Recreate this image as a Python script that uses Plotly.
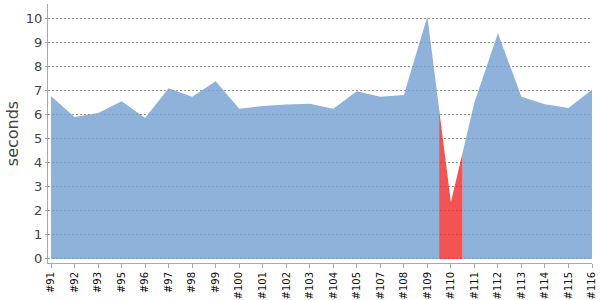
import plotly.graph_objects as go

builds = ["#91", "#92", "#93", "#95", "#96", "#97", "#98", "#99", "#100", "#101",
          "#102", "#103", "#104", "#105", "#107", "#108", "#109", "#110", "#111",
          "#112", "#113", "#114", "#115", "#116"]
durations = [6.76, 5.9, 6.07, 6.56, 5.86, 7.1, 6.74, 7.39, 6.24, 6.36,
             6.42, 6.45, 6.24, 6.97, 6.74, 6.82, 10.08, 2.36, 6.5,
             9.38, 6.74, 6.43, 6.28, 7.03]
status = ["ok"] * 17 + ["fail"] + ["ok"] * 6

colors = {"ok": "rgba(114,159,207,0.8)", "fail": "rgba(239,41,41,0.8)"}

n = len(builds)
# group contiguous runs of the same status
runs = []
start = 0
for i in range(1, n + 1):
    if i == n or status[i] != status[start]:
        runs.append((start, i - 1, status[start]))
        start = i

fig = go.Figure()
for a, b, st in runs:
    xs, ys = [], []
    if a > 0:
        xs.append(a - 0.5)
        ys.append((durations[a - 1] + durations[a]) / 2)
    for i in range(a, b + 1):
        xs.append(i)
        ys.append(durations[i])
    if b < n - 1:
        xs.append(b + 0.5)
        ys.append((durations[b] + durations[b + 1]) / 2)
    fig.add_trace(go.Scatter(x=xs, y=ys, mode="lines", line=dict(width=0),
                             fill="tozeroy", fillcolor=colors[st],
                             hoverinfo="skip", showlegend=False))

fig.update_layout(
    width=600, height=300,
    margin=dict(l=48, r=8, t=4, b=37, autoexpand=False),
    paper_bgcolor="white", plot_bgcolor="white",
    font=dict(family="DejaVu Sans", color="#444"),
)
fig.update_xaxes(
    range=[-0.13, n - 1], automargin=False,
    tickmode="array", tickvals=list(range(n)), ticktext=builds,
    tickangle=-90, tickfont=dict(size=10, color="#111"),
    showgrid=False, zeroline=False,
    showline=True, linecolor="#aaaaaa", linewidth=1,
    ticks="outside", ticklen=4, tickcolor="#aaaaaa",
)
fig.update_yaxes(
    range=[-0.17, 10.6], automargin=False,
    tickmode="array", tickvals=list(range(0, 11)),
    tickfont=dict(size=13, color="#444"),
    title=dict(text="seconds", font=dict(size=16, color="#444"), standoff=3),
    showgrid=True, gridcolor="#999999", griddash="2px,2px", gridwidth=1,
    zeroline=False,
    showline=True, linecolor="#aaaaaa", linewidth=1,
    ticks="outside", ticklen=2, tickcolor="#aaaaaa",
)

fig.write_html("out.html")
